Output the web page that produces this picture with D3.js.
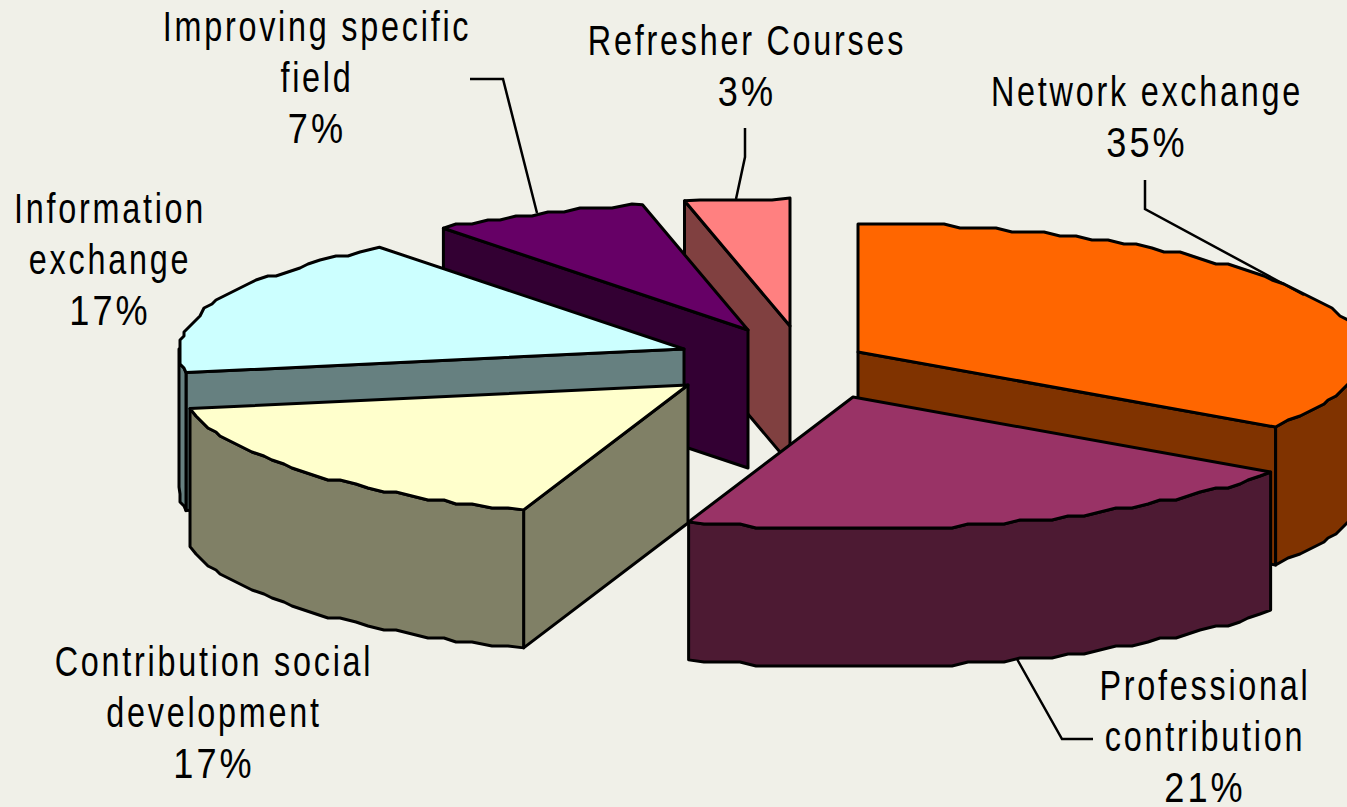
<!DOCTYPE html>
<html>
<head>
<meta charset="utf-8">
<script src="https://cdn.jsdelivr.net/npm/d3@7"></script>
<style>
  html, body { margin: 0; padding: 0; background: #f0f0e8; overflow: hidden; }
  svg { display: block; }
  text { font-family: "Liberation Sans", Arial, sans-serif; font-size: 42px; fill: #000; text-anchor: middle; letter-spacing: 3.6px; }
</style>
</head>
<body>
<svg id="chart" width="1347" height="807"></svg>
<script>
// values, the labels round them
const categories = [
  'Network exchange',
  'Professional contribution',
  'Contribution social development',
  'Information exchange',
  'Improving specific field',
  'Refresher Courses',
];
const shares = [34.7, 20.5, 16.9, 17.45, 7.05, 3.4];
const colors = ['#ff6600', '#993366', '#ffffcc', '#ccffff', '#660066', '#ff8080'];

// layout: where each exploded wedge has its apex, and the label blocks
const apexes = [[858, 352], [853, 397], [688, 385], [684, 349], [748, 330], [790, 326]];
const labelLines = [
  ['Network exchange'],
  ['Professional', 'contribution'],
  ['Contribution social', 'development'],
  ['Information', 'exchange'],
  ['Improving specific', 'field'],
  ['Refresher Courses'],
];
const labelAnchors = [[1147, 106], [1205, 700], [214, 676], [110, 223], [317, 41], [747, 55]];
const leaders = [
  [[1145, 180], [1145, 209], [1304, 295]],
  [[1017, 659], [1062, 739], [1093, 739]],
  null,
  null,
  [[470, 79], [503, 79], [537, 213]],
  [[745, 128], [745, 157], [736, 199]],
];

const rx = 505;
const ry = 130;
const depth = 138;
const nearGrowth = 0.015; // the front of the pie is a touch larger than the back
const lineGap = 51;
const drawOrder = [5, 4, 0, 3, 2, 1];

const svg = d3.select('#chart');
const slices = d3.pie().sort(null)(shares);
const line = d3.line();

function wallColor(c) {
  const rgb = d3.rgb(c);
  return d3.rgb(rgb.r / 2, rgb.g / 2, rgb.b / 2).formatHex();
}

function edgePoint(apex, a) {
  const grow = 1 - nearGrowth * Math.cos(a);
  return [apex[0] + rx * grow * Math.sin(a), apex[1] - ry * grow * Math.cos(a)];
}

// the original rim is a rough polyline, so snap the sampled points to a coarse grid
function rim(apex, a0, a1) {
  const step = (2 * Math.PI) / 180;
  const inner = d3.range(a0 + step, a1 - step / 2, step).map((a) => {
    const p = edgePoint(apex, a);
    return [Math.round(p[0] / 4) * 4, Math.round(p[1] / 4) * 4];
  });
  return [edgePoint(apex, a0), ...inner, edgePoint(apex, a1)];
}

const down = (p) => [p[0], p[1] + depth];

function drawPath(points, fill) {
  svg.append('path')
    .attr('d', line(points) + 'Z')
    .attr('fill', fill)
    .attr('stroke', '#000')
    .attr('stroke-width', 3)
    .attr('stroke-linejoin', 'round');
}

function radialWall(apex, a, fill) {
  const p = edgePoint(apex, a);
  drawPath([apex, p, down(p), down(apex)], fill);
}

drawOrder.forEach((i) => {
  const s = slices[i];
  const apex = apexes[i];
  const wall = wallColor(colors[i]);

  // only the walls facing the viewer get drawn
  if (s.startAngle > Math.PI) radialWall(apex, s.startAngle, wall);
  if (s.endAngle < Math.PI) radialWall(apex, s.endAngle, wall);

  const from = Math.max(s.startAngle, Math.PI / 2);
  const to = Math.min(s.endAngle, (3 * Math.PI) / 2);
  if (from < to) {
    const front = rim(apex, from, to);
    drawPath([...front, ...front.map(down).reverse()], wall);
  }

  drawPath([apex, ...rim(apex, s.startAngle, s.endAngle)], colors[i]);
});

leaders.forEach((pts) => {
  if (!pts) return;
  svg.append('path')
    .attr('d', line(pts))
    .attr('fill', 'none')
    .attr('stroke', '#000')
    .attr('stroke-width', 2.5);
});

categories.forEach((name, i) => {
  const lines = [...labelLines[i], `${Math.round(shares[i])}%`];
  const [x, y] = labelAnchors[i];
  lines.forEach((t, k) => {
    const sx = k === lines.length - 1 ? 0.86 : 0.77;
    svg.append('text')
      .attr('transform', `translate(${x},${y + k * lineGap}) scale(${sx},1)`)
      .text(t);
  });
});
</script>
</body>
</html>
